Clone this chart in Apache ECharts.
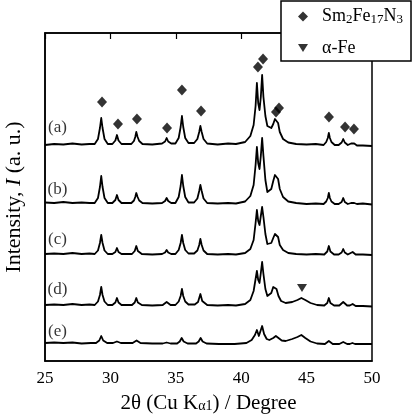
<!DOCTYPE html>
<html>
<head>
    <meta charset="utf-8" />
    <title>XRD</title>
    <style>
        html, body { margin: 0; padding: 0; background: #fff; }
        #charts { width: 414px; height: 414px; }
    </style>
</head>
<body>
    <div id="charts"></div>
    <script src="https://cdn.jsdelivr.net/npm/echarts@6/dist/echarts.min.js"></script>
    <script type="text/javascript">
        // x tick labels
        var xTicks = [25, 30, 35, 40, 45, 50];

        // traces: [2θ, intensity (offset included)]
        var traceA = [[25, 216], [25.7, 217], [26.4, 216.5], [27.1, 217.5], [27.8, 216.5], [28.4, 217],
            [28.8, 217], [29.05, 222], [29.2, 233], [29.3, 243], [29.4, 233], [29.55, 222], [29.8, 217],
            [30.15, 217], [30.38, 220.5], [30.5, 226], [30.62, 220.5], [30.85, 217],
            [31.6, 217], [31.8, 220], [31.9, 224], [31.98, 229], [32.08, 224], [32.2, 220], [32.45, 217],
            [33.2, 216.5], [33.95, 217.5], [34.18, 219.5], [34.3, 223], [34.42, 219.5], [34.65, 217.5],
            [34.97, 217.5], [35.22, 223], [35.37, 234], [35.47, 245], [35.57, 234], [35.72, 223], [35.97, 218],
            [36.4, 218], [36.65, 222], [36.79, 229], [36.88, 235], [36.98, 229], [37.12, 222], [37.4, 217.5],
            [38.2, 216.5], [39.0, 217.5], [39.6, 217], [40.3, 219], [40.7, 225], [40.95, 236], [41.1, 255], [41.2, 278], [41.3, 258], [41.4, 251], [41.5, 264], [41.6, 286], [41.7, 264], [41.85, 245], [42.0, 235], [42.15, 233], [42.3, 233], [42.45, 237], [42.58, 242], [42.7, 243], [42.82, 238], [42.95, 229], [43.2, 222], [43.6, 218.5], [44.2, 217],
            [45.0, 216.5], [45.7, 217], [46.3, 216], [46.5, 219], [46.62, 223], [46.7, 228], [46.78, 223], [46.9, 219], [47.15, 216],
            [47.45, 216], [47.68, 218.5], [47.8, 222], [47.92, 218.5], [48.15, 216],
            [48.25, 216], [48.4, 217.5], [48.52, 219.5], [48.64, 217.5], [48.85, 215.5],
            [49.3, 215.5], [50, 215]];
        var traceB = [[25, 158.5], [25.7, 158], [26.4, 159], [27.1, 158], [27.8, 158.5], [28.4, 158],
            [28.8, 158], [29.05, 163], [29.2, 174], [29.3, 185], [29.4, 174], [29.55, 163], [29.8, 158],
            [30.15, 158], [30.38, 161], [30.5, 166], [30.62, 161], [30.85, 158],
            [31.6, 158], [31.8, 160.5], [31.9, 164], [31.98, 168], [32.08, 164], [32.2, 160.5], [32.45, 158],
            [33.2, 157.5], [33.95, 158], [34.18, 160], [34.3, 163], [34.42, 160], [34.65, 158],
            [34.97, 158], [35.22, 164], [35.37, 175], [35.47, 186], [35.57, 175], [35.72, 164], [35.97, 158.5],
            [36.4, 158.5], [36.65, 162.5], [36.79, 170], [36.88, 176], [36.98, 170], [37.12, 162.5], [37.4, 158],
            [38.2, 157.5], [39.0, 158], [39.6, 157.5], [40.3, 159.5], [40.7, 165], [40.95, 176], [41.1, 196], [41.2, 214], [41.3, 198], [41.4, 192], [41.5, 205], [41.6, 223], [41.7, 205], [41.85, 181], [42.0, 169], [42.15, 168], [42.3, 172], [42.45, 180], [42.58, 186], [42.7, 187], [42.82, 182], [42.95, 172], [43.2, 164], [43.6, 159.5], [44.2, 158],
            [45.0, 157], [45.7, 157.5], [46.3, 157], [46.5, 159.5], [46.62, 163], [46.7, 168], [46.78, 163], [46.9, 159.5], [47.15, 157],
            [47.45, 157], [47.68, 159], [47.8, 163], [47.92, 159], [48.15, 157],
            [48.25, 157], [48.4, 158], [48.52, 160], [48.64, 158], [48.85, 157],
            [49.3, 157.5], [50, 156.5]];
        var traceC = [[25, 107], [25.7, 107.5], [26.4, 107], [27.1, 108], [27.8, 107], [28.4, 107.5],
            [28.8, 107], [29.05, 110.5], [29.2, 118], [29.3, 126], [29.4, 118], [29.55, 110.5], [29.8, 107],
            [30.15, 107], [30.38, 109], [30.5, 113], [30.62, 109], [30.85, 107],
            [31.65, 107], [31.86, 110], [31.98, 115], [32.1, 110], [32.4, 107],
            [33.2, 106.5], [33.95, 107], [34.18, 108.5], [34.3, 111], [34.42, 108.5], [34.65, 107],
            [34.97, 107], [35.22, 111], [35.37, 118], [35.47, 126], [35.57, 118], [35.72, 111], [35.97, 107.5],
            [36.4, 107.5], [36.65, 110.5], [36.79, 116], [36.88, 122], [36.98, 116], [37.12, 110.5], [37.4, 107],
            [38.2, 106.5], [39.0, 107], [39.6, 106.5], [40.3, 108], [40.7, 112], [40.95, 121], [41.1, 138], [41.2, 151], [41.3, 140], [41.4, 136], [41.5, 145], [41.6, 154], [41.7, 144], [41.85, 127], [42.0, 117], [42.15, 115.5], [42.3, 118], [42.45, 123], [42.58, 127], [42.7, 128], [42.82, 124], [42.95, 116], [43.2, 111], [43.6, 108], [44.2, 107],
            [45.0, 106.5], [45.7, 107], [46.35, 106.5], [46.58, 109.5], [46.7, 115], [46.82, 109.5], [47.1, 106.5],
            [47.45, 106.5], [47.68, 108.5], [47.8, 112], [47.92, 108.5], [48.15, 106.5],
            [48.3, 106.5], [48.52, 109], [48.75, 106.5],
            [49.3, 106.5], [50, 106]];
        var traceD = [[25, 56], [25.7, 56.5], [26.4, 56], [27.1, 57], [27.8, 56], [28.4, 56.5],
            [28.8, 56], [29.05, 59.5], [29.2, 66], [29.3, 74], [29.4, 66], [29.55, 59.5], [29.8, 56],
            [30.15, 56], [30.38, 58.5], [30.5, 63], [30.62, 58.5], [30.85, 56],
            [31.65, 56], [31.86, 58.5], [31.98, 63], [32.1, 58.5], [32.4, 56],
            [33.2, 55.5], [34.0, 56], [34.3, 59], [34.6, 56],
            [34.97, 56], [35.22, 59.5], [35.37, 65], [35.47, 72], [35.57, 65], [35.72, 59.5], [35.97, 56.5],
            [36.45, 56.5], [36.7, 59], [36.88, 67], [37.02, 60], [37.4, 56],
            [38.2, 55.5], [39.0, 56], [39.6, 55.5], [40.3, 57], [40.7, 61], [40.95, 70], [41.1, 82], [41.2, 90], [41.3, 81], [41.4, 78], [41.5, 88], [41.6, 99], [41.7, 87], [41.85, 72], [42.0, 65], [42.15, 64.5], [42.3, 68], [42.45, 74], [42.55, 75], [42.7, 72], [42.85, 65], [43.05, 60], [43.4, 58], [43.9, 59], [44.3, 61], [44.6, 63], [44.9, 61], [45.3, 58], [45.8, 56],
            [46.35, 55.5], [46.58, 58], [46.7, 63], [46.82, 58], [47.1, 55.5],
            [47.5, 55.5], [47.8, 59], [48.1, 55.5],
            [48.3, 55.5], [48.52, 57], [48.75, 55],
            [49.3, 55], [50, 54.5]];
        var traceE = [[25, 18], [25.7, 18.5], [26.4, 18], [27.1, 18.5], [27.8, 17.5], [28.5, 18],
            [28.9, 18], [29.15, 20.5], [29.3, 25], [29.45, 20.5], [29.75, 18],
            [30.2, 18], [30.5, 19.5], [30.8, 18],
            [31.7, 18], [32.0, 20.5], [32.3, 18],
            [33.2, 17.5], [34.0, 17.5], [34.3, 18.5], [34.6, 17.5],
            [35.1, 17.5], [35.3, 19.5], [35.45, 23], [35.6, 19.5], [35.9, 17.5],
            [36.55, 17.5], [36.75, 19.5], [36.9, 23], [37.05, 19.5], [37.35, 17.5],
            [38.3, 17], [39.5, 17], [40.4, 18], [40.8, 21], [41.05, 26], [41.2, 31], [41.35, 25], [41.45, 26], [41.6, 35], [41.75, 27], [41.95, 22], [42.15, 21], [42.45, 23], [42.65, 25], [42.85, 23], [43.1, 20.5], [43.4, 20], [43.9, 22], [44.3, 24], [44.6, 26], [44.9, 23], [45.3, 19.5], [45.8, 17.5],
            [46.4, 17], [46.7, 20], [47.0, 17],
            [47.5, 17], [47.8, 19], [48.1, 17],
            [48.3, 17], [48.5, 18], [48.7, 17],
            [49.3, 17], [50, 17]];

        // peak markers
        var smfnPeaks = [[29.36, 259], [30.58, 237], [32.03, 242], [34.33, 233], [35.47, 271], [36.93, 250], [41.28, 294], [41.67, 302], [42.66, 249], [42.89, 253], [46.71, 244], [47.94, 234], [48.62, 232]];
        var feaPeaks = [[44.65, 73]];

        // sample labels
        var sampleNames = ['(a)', '(b)', '(c)', '(d)', '(e)'];
        var sampleLabelY = [233, 171, 121, 71, 29];
        var sampleLabelX = 25.95;

        var serif = 'Liberation Serif';
        var downTri = 'path://M0,0 L10,0 L5,8 Z';

        var labelData = [];
        for (var i = 0; i < sampleNames.length; i++) {
            labelData.push({ name: sampleNames[i], value: [sampleLabelX, sampleLabelY[i]] });
        }

        var myChart = echarts.init(document.getElementById('charts'));

        var traces = [traceA, traceB, traceC, traceD, traceE];
        var series = [];
        for (var j = 0; j < traces.length; j++) {
            series.push({
                type: 'line',
                data: traces[j],
                symbol: 'none',
                silent: true,
                lineStyle: { color: '#000', width: 1.8, join: 'round' }
            });
        }
        series.push({
            name: 'Sm2Fe17N3',
            type: 'scatter',
            data: smfnPeaks,
            symbol: 'diamond',
            symbolSize: [10, 11],
            itemStyle: { color: '#000' }
        });
        series.push({
            name: 'α-Fe',
            type: 'scatter',
            data: feaPeaks,
            symbol: downTri,
            symbolSize: [10, 8],
            itemStyle: { color: '#000' }
        });
        series.push({
            type: 'scatter',
            data: labelData,
            symbolSize: 0,
            silent: true,
            label: {
                show: true,
                position: 'inside',
                formatter: '{b}',
                color: '#000',
                fontFamily: serif,
                fontSize: 17
            }
        });

        var option = {
            animation: false,
            backgroundColor: '#fff',
            textStyle: { fontFamily: serif },
            grid: {
                left: 45, right: 42, top: 33, bottom: 53,
                outerBoundsMode: 'none',
                containLabel: false,
                show: true,
                borderColor: '#000',
                borderWidth: 1.5
            },
            legend: {
                data: [
                    { name: 'Sm2Fe17N3', icon: 'diamond' },
                    { name: 'α-Fe', icon: downTri }
                ],
                orient: 'vertical',
                left: 281,
                top: 1,
                padding: [6, 8, 4, 17],
                itemGap: 13,
                itemWidth: 10,
                itemHeight: 10,
                backgroundColor: '#fff',
                borderColor: '#000',
                borderWidth: 1.5,
                borderRadius: 0,
                selectedMode: false,
                formatter: function (name) {
                    if (name === 'Sm2Fe17N3') {
                        return '{n|Sm}{s|2}{n|Fe}{s|17}{n|N}{s|3}';
                    }
                    return '{n|α-Fe}';
                },
                textStyle: {
                    fontFamily: serif,
                    padding: [0, 0, 0, 9],
                    rich: {
                        n: { fontFamily: serif, fontSize: 18, lineHeight: 20, color: '#000' },
                        s: { fontFamily: serif, fontSize: 13, lineHeight: 20, color: '#000', padding: [6, 0, 0, 0] }
                    }
                }
            },
            xAxis: [
                {
                    type: 'value',
                    min: xTicks[0],
                    max: xTicks[xTicks.length - 1],
                    interval: 5,
                    position: 'bottom',
                    axisLine: { show: true, lineStyle: { color: '#000', width: 1.5 } },
                    axisTick: { show: false },
                    splitLine: { show: false },
                    axisLabel: { color: '#000', fontFamily: serif, fontSize: 17, margin: 9 },
                    name: '{n|2θ (Cu K}{s|α1}{n|) / Degree}',
                    nameLocation: 'middle',
                    nameGap: 32,
                    nameTextStyle: {
                        fontFamily: serif,
                        rich: {
                            n: { fontFamily: serif, fontSize: 21, color: '#000' },
                            s: { fontFamily: serif, fontSize: 14, color: '#000', padding: [6, 0, 0, 0] }
                        }
                    }
                },
                {
                    type: 'value',
                    min: xTicks[0],
                    max: xTicks[xTicks.length - 1],
                    interval: 5,
                    position: 'top',
                    axisLine: { show: true, lineStyle: { color: '#000', width: 1.5 } },
                    axisTick: { show: true, inside: true, length: 6, lineStyle: { color: '#000', width: 1.2 } },
                    axisLabel: { show: false },
                    splitLine: { show: false }
                }
            ],
            yAxis: {
                type: 'value',
                min: 0,
                max: 328,
                axisLine: { show: true, lineStyle: { color: '#000', width: 1.5 } },
                axisTick: { show: false },
                axisLabel: { show: false },
                splitLine: { show: false },
                name: '{n|Intensity, }{i|I}{n| (a. u.)}',
                nameLocation: 'middle',
                nameGap: 20,
                nameTextStyle: {
                    fontFamily: serif,
                    rich: {
                        n: { fontFamily: serif, fontSize: 22, color: '#000' },
                        i: { fontFamily: serif, fontSize: 22, fontStyle: 'italic', color: '#000' }
                    }
                }
            },
            series: series
        };

        myChart.setOption(option);
    </script>
</body>
</html>
